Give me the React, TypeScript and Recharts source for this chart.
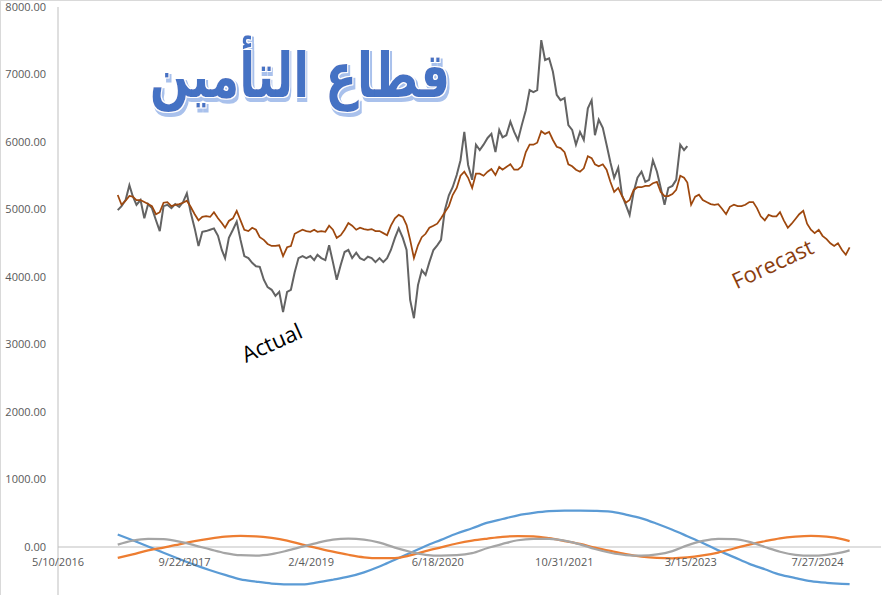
import React from 'react';
import { LineChart, Line, XAxis, YAxis, ReferenceLine } from 'recharts';

// ---------- categories ----------
const dates: string[] = [
  '2017-01-01','2017-01-16','2017-02-01','2017-02-16','2017-03-01','2017-03-16','2017-04-01','2017-04-16','2017-05-01','2017-05-16','2017-06-01','2017-06-16',
  '2017-07-01','2017-07-16','2017-08-01','2017-08-16','2017-09-01','2017-09-16','2017-10-01','2017-10-16','2017-11-01','2017-11-16','2017-12-01','2017-12-16',
  '2018-01-01','2018-01-16','2018-02-01','2018-02-16','2018-03-01','2018-03-16','2018-04-01','2018-04-16','2018-05-01','2018-05-16','2018-06-01','2018-06-16',
  '2018-07-01','2018-07-16','2018-08-01','2018-08-16','2018-09-01','2018-09-16','2018-10-01','2018-10-16','2018-11-01','2018-11-16','2018-12-01','2018-12-16',
  '2019-01-01','2019-01-16','2019-02-01','2019-02-16','2019-03-01','2019-03-16','2019-04-01','2019-04-16','2019-05-01','2019-05-16','2019-06-01','2019-06-16',
  '2019-07-01','2019-07-16','2019-08-01','2019-08-16','2019-09-01','2019-09-16','2019-10-01','2019-10-16','2019-11-01','2019-11-16','2019-12-01','2019-12-16',
  '2020-01-01','2020-01-16','2020-02-01','2020-02-16','2020-03-01','2020-03-16','2020-04-01','2020-04-16','2020-05-01','2020-05-16','2020-06-01','2020-06-16',
  '2020-07-01','2020-07-16','2020-08-01','2020-08-16','2020-09-01','2020-09-16','2020-10-01','2020-10-16','2020-11-01','2020-11-16','2020-12-01','2020-12-16',
  '2021-01-01','2021-01-16','2021-02-01','2021-02-16','2021-03-01','2021-03-16','2021-04-01','2021-04-16','2021-05-01','2021-05-16','2021-06-01','2021-06-16',
  '2021-07-01','2021-07-16','2021-08-01','2021-08-16','2021-09-01','2021-09-16','2021-10-01','2021-10-16','2021-11-01','2021-11-16','2021-12-01','2021-12-16',
  '2022-01-01','2022-01-16','2022-02-01','2022-02-16','2022-03-01','2022-03-16','2022-04-01','2022-04-16','2022-05-01','2022-05-16','2022-06-01','2022-06-16',
  '2022-07-01','2022-07-16','2022-08-01','2022-08-16','2022-09-01','2022-09-16','2022-10-01','2022-10-16','2022-11-01','2022-11-16','2022-12-01','2022-12-16',
  '2023-01-01','2023-01-16','2023-02-01','2023-02-16','2023-03-01','2023-03-16','2023-04-01','2023-04-16','2023-05-01','2023-05-16','2023-06-01','2023-06-16',
  '2023-07-01','2023-07-16','2023-08-01','2023-08-16','2023-09-01','2023-09-16','2023-10-01','2023-10-16','2023-11-01','2023-11-16','2023-12-01','2023-12-16',
  '2024-01-01','2024-01-16','2024-02-01','2024-02-16','2024-03-01','2024-03-16','2024-04-01','2024-04-16','2024-05-01','2024-05-16','2024-06-01','2024-06-16',
  '2024-07-01','2024-07-16','2024-08-01','2024-08-16','2024-09-01','2024-09-16','2024-10-01','2024-10-16','2024-11-01','2024-11-16','2024-12-01',
];

// ---------- series ----------
const actual: number[] = [
  4990, 5050, 5140, 5360, 5200, 5070, 5140, 4870, 5080, 5020, 4840, 4680, 5050, 5070, 5020, 5080, 5040, 5110, 5240, 4960, 4720, 4460, 4670, 4680,
  4700, 4720, 4610, 4400, 4280, 4580, 4700, 4820, 4550, 4310, 4280, 4210, 4160, 4150, 3960, 3850, 3810, 3720, 3780, 3480, 3780, 3810, 4070, 4280,
  4310, 4280, 4310, 4250, 4330, 4280, 4250, 4470, 4220, 3960, 4180, 4370, 4400, 4280, 4360, 4280, 4250, 4300, 4280, 4220, 4280, 4220, 4280, 4400,
  4580, 4720, 4580, 4400, 3660, 3390, 3880, 4100, 4030, 4220, 4400, 4470, 4550, 4990, 5210, 5330, 5510, 5730, 6150, 5660, 5440, 5960, 5880, 5960,
  6060, 6120, 5850, 6180, 6070, 6100, 6300, 6150, 6030, 6250, 6470, 6770, 6740, 6770, 7510, 7215, 7240, 7040, 6700, 6620, 6650, 6250, 6180, 5960,
  6150, 6030, 6500, 6620, 6100, 6330, 6210, 5960, 5700, 5470, 5620, 5210, 5070, 4920, 5260, 5470, 5560, 5410, 5440, 5730, 5560, 5320, 5070, 5320,
  5350, 5440, 5960, 5880, 5940,
];

const forecast: number[] = [
  5215, 5070, 5130, 5200, 5190, 5140, 5140, 5110, 5080, 5050, 4930, 4960, 5100, 5110, 5050, 5070, 5080, 5100, 5130, 5040, 4930, 4840, 4890, 4900,
  4890, 4960, 4870, 4800, 4730, 4830, 4870, 4980, 4840, 4700, 4680, 4730, 4700, 4590, 4550, 4490, 4460, 4460, 4470, 4310, 4440, 4460, 4640, 4670,
  4700, 4680, 4670, 4700, 4670, 4680, 4670, 4760, 4700, 4580, 4620, 4700, 4800, 4760, 4700, 4730, 4710, 4700, 4710, 4680, 4680, 4650, 4620, 4760,
  4870, 4920, 4890, 4770, 4550, 4280, 4470, 4590, 4640, 4730, 4760, 4790, 4870, 4960, 5050, 5215, 5320, 5500, 5560, 5470, 5320, 5530, 5530, 5500,
  5560, 5600, 5510, 5630, 5590, 5630, 5670, 5590, 5590, 5640, 5850, 5960, 5960, 5990, 6160, 6120, 6150, 6030, 5930, 5910, 5850, 5670, 5640, 5590,
  5560, 5610, 5790, 5760, 5670, 5640, 5670, 5590, 5410, 5260, 5320, 5200, 5100, 5140, 5290, 5330, 5330, 5350, 5350, 5390, 5410, 5260, 5200, 5200,
  5230, 5290, 5500, 5470, 5400, 5070, 5190, 5220, 5140, 5110, 5080, 5070, 5080, 5010, 4930, 5040, 5070, 5050, 5050, 5070, 5110, 5110, 5020, 4900,
  4840, 4920, 4900, 4900, 4960, 4840, 4730, 4790, 4860, 4930, 4980, 4790, 4700, 4650, 4700, 4610, 4560, 4500, 4460, 4500, 4400, 4330, 4440,
];

const cycleDates: string[] = [
  '2017-01-01','2017-03-01','2017-05-01','2017-07-01','2017-09-01','2017-11-01',
  '2018-01-01','2018-03-01','2018-05-01','2018-07-01','2018-09-01','2018-11-01',
  '2019-01-01','2019-03-01','2019-05-01','2019-07-01','2019-09-01','2019-11-01',
  '2020-01-01','2020-03-01','2020-05-01','2020-07-01','2020-09-01','2020-11-01',
  '2021-01-01','2021-03-01','2021-05-01','2021-07-01','2021-09-01','2021-11-01',
  '2022-01-01','2022-03-01','2022-05-01','2022-07-01','2022-09-01','2022-11-01',
  '2023-01-01','2023-03-01','2023-05-01','2023-07-01','2023-09-01','2023-11-01',
  '2024-01-01','2024-03-01','2024-05-01','2024-07-01','2024-09-01','2024-11-01',
  '2024-12-01',
];

const cycleBlue: number[] = [
  185, 100, 8, -85, -177, -265,
  -344, -414, -480, -513, -541, -553,
  -553, -525, -485, -440, -375, -290,
  -188, -90, 15, 106, 200, 278,
  360, 415, 470, 505, 530, 538,
  538, 535, 525, 480, 425, 345,
  255, 160, 60, -50, -150, -250,
  -330, -410, -460, -505, -530, -545,
  -550,
];

const cycleOrange: number[] = [
  -162, -108, -50, -8, 40, 88,
  125, 152, 163, 158, 135, 95,
  35, -17, -69, -115, -152, -165,
  -164, -125, -62, -5, 52, 95,
  125, 150, 162, 158, 130, 88,
  45, -8, -58, -105, -142, -162,
  -167, -155, -125, -82, -22, 35,
  85, 128, 152, 163, 152, 118,
  88,
];

const cycleGray: number[] = [
  35, 95, 122, 115, 80, 25,
  -35, -90, -122, -127, -105, -55,
  5, 62, 108, 123, 110, 65,
  -10, -70, -115, -128, -122, -92,
  -15, 45, 100, 120, 122, 95,
  40, -30, -85, -120, -128, -110,
  -60, 25, 90, 120, 115, 75,
  0, -70, -115, -128, -115, -80,
  -50,
];

// ---------- axis ticks ----------
const yTicks: number[] = [0, 1000, 2000, 3000, 4000, 5000, 6000, 7000, 8000];
const xTickDates: string[] = ['2016-05-10', '2017-09-22', '2019-02-04', '2020-06-18', '2021-10-31', '2023-03-15', '2024-07-27'];
const X_END_DATE = '2025-04-04';
const Y_MIN = -1000;
const Y_MAX = 8000;

// ---------- helpers ----------
const DAY0 = Date.UTC(2016, 4, 10);
const toDay = (s: string) => Math.round((Date.parse(s + 'T00:00:00Z') - DAY0) / 86400000);
const fmtDate = (d: number) => {
  const t = new Date(DAY0 + d * 86400000);
  return `${t.getUTCMonth() + 1}/${t.getUTCDate()}/${t.getUTCFullYear()}`;
};

const mainData = dates.map((s, i) => ({
  d: toDay(s),
  actual: i < actual.length ? actual[i] : null,
  forecast: i < forecast.length ? forecast[i] : null,
}));
const cycleData = cycleDates.map((s, i) => ({
  d: toDay(s),
  blue: cycleBlue[i],
  orange: cycleOrange[i],
  gray: cycleGray[i],
}));

const W = 882;
const H = 623;
const M_TOP = 7;
const X_AXIS_H = 8.5;
const PLOT_H = H - M_TOP - X_AXIS_H;
const ZERO_UP = (PLOT_H * (0 - Y_MIN)) / (Y_MAX - Y_MIN);

const XTick = (props: any) => {
  const { x, y, payload } = props;
  return (
    <text x={x} y={y - ZERO_UP + 19} textAnchor="middle" fill="#595959" fontSize={11} fontFamily="'Open Sans', sans-serif">
      {fmtDate(payload.value)}
    </text>
  );
};

export default function App() {
  return (
    <div style={{ position: 'fixed', left: 0, top: 0, width: W, height: 595, overflow: 'hidden', background: '#fff' }}>
      <LineChart width={W} height={H} data={mainData} margin={{ top: M_TOP, right: 1, bottom: 0, left: 0 }}>
        <XAxis
          dataKey="d"
          type="number"
          domain={[0, toDay(X_END_DATE)]}
          ticks={xTickDates.map(toDay)}
          interval={0}
          allowDataOverflow
          axisLine={false}
          tickLine={false}
          tickSize={0}
          tickMargin={0}
          height={X_AXIS_H}
          tick={<XTick />}
        />
        <YAxis
          type="number"
          domain={[Y_MIN, Y_MAX]}
          ticks={yTicks}
          interval={0}
          width={58}
          axisLine={{ stroke: '#BFBFBF', strokeWidth: 1 }}
          tickLine={false}
          tickSize={0}
          tickMargin={12}
          tick={{ fill: '#595959', fontSize: 11, fontFamily: "'Open Sans', sans-serif" }}
          tickFormatter={(v: number) => v.toFixed(2)}
        />
        <ReferenceLine y={0} stroke="#BFBFBF" strokeWidth={1} />
        <Line data={cycleData} dataKey="blue" type="monotone" stroke="#5B9BD5" strokeWidth={2.25} dot={false} isAnimationActive={false} />
        <Line data={cycleData} dataKey="orange" type="monotone" stroke="#ED7D31" strokeWidth={2.25} dot={false} isAnimationActive={false} />
        <Line data={cycleData} dataKey="gray" type="monotone" stroke="#A5A5A5" strokeWidth={2.25} dot={false} isAnimationActive={false} />
        <Line dataKey="actual" type="linear" stroke="#636363" strokeWidth={2} dot={false} isAnimationActive={false} connectNulls={false} />
        <Line dataKey="forecast" type="linear" stroke="#9E480E" strokeWidth={1.75} dot={false} isAnimationActive={false} />
      </LineChart>
      <svg width={W} height={595} style={{ position: 'absolute', left: 0, top: 0, pointerEvents: 'none' }}>
        <defs>
          <filter id="wordart" x="-10%" y="-30%" width="120%" height="160%">
            <feMorphology in="SourceAlpha" operator="dilate" radius="1.6" result="dil" />
            <feOffset in="dil" dx="2" dy="3" result="off" />
            <feFlood floodColor="#A9C1EC" result="lightc" />
            <feComposite in="lightc" in2="off" operator="in" result="shadow" />
            <feMorphology in="SourceAlpha" operator="dilate" radius="1" result="dil2" />
            <feFlood floodColor="#FFFFFF" result="whitec" />
            <feComposite in="whitec" in2="dil2" operator="in" result="halo" />
            <feMerge>
              <feMergeNode in="shadow" />
              <feMergeNode in="halo" />
              <feMergeNode in="SourceGraphic" />
            </feMerge>
          </filter>
        </defs>
        <g transform="translate(300 0) scale(0.75 1)" filter="url(#wordart)">
          <text x={0} y={97} textAnchor="middle" fontFamily="'DejaVu Sans', sans-serif" fontWeight="bold" fontSize={62} fill="#4472C4">قطاع التأمين</text>
        </g>
        <text x={275} y={350} transform="rotate(-24 275 350)" textAnchor="middle" fontFamily="'Open Sans', sans-serif" fontSize={22} fill="#000000">Actual</text>
        <text x={776} y={271} transform="rotate(-25 776 271)" textAnchor="middle" fontFamily="'Open Sans', sans-serif" fontSize={22} fill="#8B3E0F">Forecast</text>
        <line x1={0} y1={0.5} x2={W} y2={0.5} stroke="#D9D9D9" />
        <line x1={0.5} y1={0} x2={0.5} y2={595} stroke="#D9D9D9" />
      </svg>
    </div>
  );
}
